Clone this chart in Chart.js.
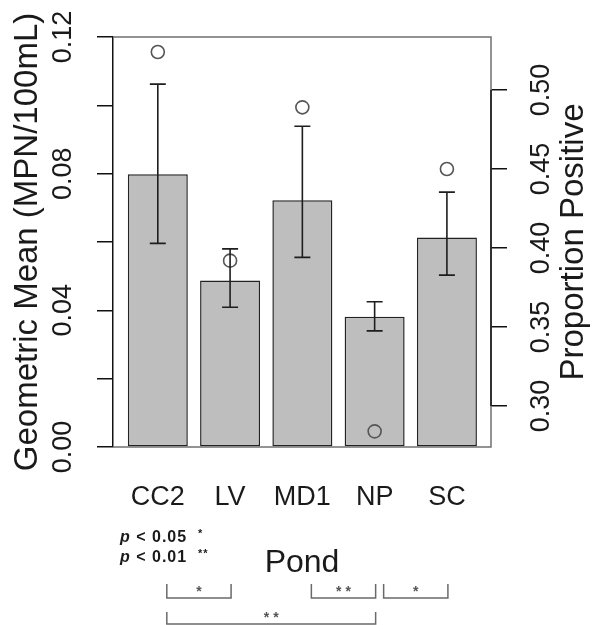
<!DOCTYPE html>
<html><head><meta charset="utf-8">
<script src="https://cdn.jsdelivr.net/npm/chart.js@4/dist/chart.umd.min.js"></script>
<style>html,body{margin:0;padding:0;background:#fff;}canvas{display:block;}</style>
</head><body>
<canvas id="c" width="592" height="625"></canvas>
<script>
// ---- data ----
const ponds = ['CC2', 'LV', 'MD1', 'NP', 'SC'];
const geoMean = [0.0798, 0.0487, 0.0722, 0.0381, 0.0613];
const errLow = [0.0596, 0.0409, 0.0555, 0.0340, 0.0503];
const errHigh = [0.1062, 0.0580, 0.0939, 0.0425, 0.0746];
const propPositive = [0.524, 0.392, 0.489, 0.284, 0.450];
const leftTicks = [0, 0.02, 0.04, 0.06, 0.08, 0.10, 0.12];
const leftTickLabels = ['0.00', '', '0.04', '', '0.08', '', '0.12'];
const rightTicks = [0.30, 0.35, 0.40, 0.45, 0.50];
const rightTickLabels = ['0.30', '0.35', '0.40', '0.45', '0.50'];
// [from pond index, to pond index, significance, row]
const comparisons = [[0, 1, '*', 0], [2, 3, '**', 0], [3, 4, '*', 0], [0, 3, '**', 1]];
const pLegend = [['0.05', '*'], ['0.01', '**']];

const FONT = '"Liberation Sans", Arial, Helvetica, sans-serif';
const TXT = '#1a1a1a';

const decor = {
  id: 'decor',
  beforeDatasetsDraw(chart) {
    const {ctx, chartArea: a} = chart;
    ctx.save();
    ctx.strokeStyle = '#707070';
    ctx.lineWidth = 1.5;
    ctx.beginPath();
    ctx.moveTo(a.left, a.top); ctx.lineTo(a.right, a.top);
    ctx.lineTo(a.right, a.bottom); ctx.lineTo(a.left, a.bottom);
    ctx.stroke();
    ctx.restore();
  },
  afterDatasetsDraw(chart) {
    const {ctx} = chart;
    const xs = chart.scales.x, ys = chart.scales.y;
    ctx.save();
    ctx.strokeStyle = '#1e1e1e';
    ctx.lineWidth = 1.6;
    ponds.forEach((p, i) => {
      const px = xs.getPixelForValue(i);
      const y1 = ys.getPixelForValue(errHigh[i]);
      const y2 = ys.getPixelForValue(errLow[i]);
      ctx.beginPath();
      ctx.moveTo(px, y1); ctx.lineTo(px, y2);
      ctx.moveTo(px - 8, y1); ctx.lineTo(px + 8, y1);
      ctx.moveTo(px - 8, y2); ctx.lineTo(px + 8, y2);
      ctx.stroke();
    });
    ctx.restore();
  },
  afterDraw(chart) {
    const {ctx, chartArea: a} = chart;
    const xs = chart.scales.x, ys = chart.scales.y, y2s = chart.scales.y2;
    ctx.save();
    // right axis line (between first and last tick)
    ctx.strokeStyle = '#111';
    ctx.lineWidth = 1.5;
    ctx.beginPath();
    ctx.moveTo(a.right, y2s.getPixelForValue(rightTicks[0]));
    ctx.lineTo(a.right, y2s.getPixelForValue(rightTicks[rightTicks.length - 1]));
    ctx.stroke();

    // rotated tick labels
    ctx.fillStyle = TXT;
    ctx.font = '27px ' + FONT;
    ctx.textAlign = 'center';
    ctx.textBaseline = 'middle';
    leftTicks.forEach((v, i) => {
      if (!leftTickLabels[i]) return;
      ctx.save();
      ctx.translate(a.left - 49, ys.getPixelForValue(v));
      ctx.rotate(-Math.PI / 2);
      ctx.fillText(leftTickLabels[i], 0, 0);
      ctx.restore();
    });
    rightTicks.forEach((v, i) => {
      ctx.save();
      ctx.translate(a.right + 51, y2s.getPixelForValue(v));
      ctx.rotate(-Math.PI / 2);
      ctx.fillText(rightTickLabels[i], 0, 0);
      ctx.restore();
    });
    // right axis title
    ctx.font = '33px ' + FONT;
    ctx.save();
    ctx.translate(a.right + 83, (a.top + a.bottom) / 2);
    ctx.rotate(-Math.PI / 2);
    ctx.fillText('Proportion Positive', 0, 0);
    ctx.restore();

    // p-value legend
    ctx.textAlign = 'left';
    ctx.textBaseline = 'alphabetic';
    if ('letterSpacing' in ctx) ctx.letterSpacing = '1px';
    pLegend.forEach((row, k) => {
      let x = a.left + 7;
      const y = a.bottom + 95 + k * 20;
      ctx.font = 'italic bold 16px ' + FONT;
      ctx.fillText('p', x, y);
      x += ctx.measureText('p').width;
      ctx.font = 'bold 16px ' + FONT;
      const t = ' < ' + row[0] + '  ';
      ctx.fillText(t, x, y);
      x += ctx.measureText(t).width;
      ctx.font = 'bold 11px ' + FONT;
      ctx.fillText(row[1], x, y - 5);
    });
    if ('letterSpacing' in ctx) ctx.letterSpacing = '0px';

    // significance brackets
    ctx.strokeStyle = '#6a6a6a';
    ctx.fillStyle = '#555';
    ctx.lineWidth = 1.5;
    ctx.textAlign = 'center';
    ctx.textBaseline = 'middle';
    comparisons.forEach(([f, t, s, r]) => {
      const x1 = xs.getPixelForValue(f) + 9;
      const x2 = xs.getPixelForValue(t) + 1;
      const top = a.bottom + 137 + r * 28;
      const bot = a.bottom + 151 + r * 26;
      ctx.beginPath();
      ctx.moveTo(x1, top); ctx.lineTo(x1, bot); ctx.lineTo(x2, bot); ctx.lineTo(x2, top);
      ctx.stroke();
      ctx.font = 'bold 14px ' + FONT;
      ctx.fillText(s.split('').join(' '), (x1 + x2) / 2, bot - 6);
    });
    ctx.restore();
  }
};

new Chart(document.getElementById('c'), {
  data: {
    datasets: [
      {
        type: 'line',
        label: 'Proportion Positive',
        data: propPositive.map((v, i) => ({x: i, y: v})),
        yAxisID: 'y2',
        xAxisID: 'x',
        showLine: false,
        pointStyle: 'circle',
        pointRadius: 6.5,
        pointBorderWidth: 1.6,
        pointBorderColor: '#555',
        pointBackgroundColor: 'rgba(0,0,0,0)',
        order: 1
      },
      {
        type: 'bar',
        label: 'Geometric Mean',
        data: geoMean.map((v, i) => ({x: i, y: v})),
        yAxisID: 'y',
        xAxisID: 'x',
        backgroundColor: '#bebebe',
        borderColor: '#222',
        borderWidth: 1.5,
        borderSkipped: false,
        barPercentage: 0.83,
        categoryPercentage: 1,
        order: 2
      }
    ]
  },
  options: {
    responsive: false,
    animation: false,
    devicePixelRatio: 1,
    layout: {padding: {top: 37, left: 0, right: 0, bottom: 0}},
    plugins: {legend: {display: false}, tooltip: {enabled: false}},
    scales: {
      x: {
        type: 'linear',
        position: 'bottom',
        offset: false,
        min: -0.62,
        max: 4.61,
        afterBuildTicks: (s) => { s.ticks = ponds.map((_, i) => ({value: i})); },
        afterFit: (s) => { s.height = 178; },
        grid: {display: false, drawTicks: false, offset: false},
        border: {display: false},
        ticks: {
          autoSkip: false,
          maxRotation: 0,
          padding: 34,
          color: TXT,
          font: {family: FONT, size: 27},
          callback: (v) => ponds[v]
        },
        title: {
          display: true,
          text: 'Pond',
          color: TXT,
          font: {family: FONT, size: 32},
          padding: {top: 0, bottom: 43}
        }
      },
      y: {
        type: 'linear',
        position: 'left',
        min: 0,
        max: 0.12,
        afterBuildTicks: (s) => { s.ticks = leftTicks.map(v => ({value: v})); },
        afterFit: (s) => { s.width = 113; },
        grid: {drawOnChartArea: false, drawTicks: true, tickLength: 16, color: '#111', lineWidth: 1.5},
        border: {display: true, color: '#111', width: 1.5},
        ticks: {display: false},
        title: {
          display: true,
          text: 'Geometric Mean (MPN/100mL)',
          color: TXT,
          font: {family: FONT, size: 33},
          padding: {top: 8, bottom: 0}
        }
      },
      y2: {
        type: 'linear',
        position: 'right',
        min: 0.2741,
        max: 0.5335,
        afterBuildTicks: (s) => { s.ticks = rightTicks.map(v => ({value: v})); },
        afterFit: (s) => { s.width = 101; },
        grid: {drawOnChartArea: false, drawTicks: true, tickLength: 16, color: '#111', lineWidth: 1.5},
        border: {display: false},
        ticks: {display: false}
      }
    }
  },
  plugins: [decor]
});
</script>
</body></html>
